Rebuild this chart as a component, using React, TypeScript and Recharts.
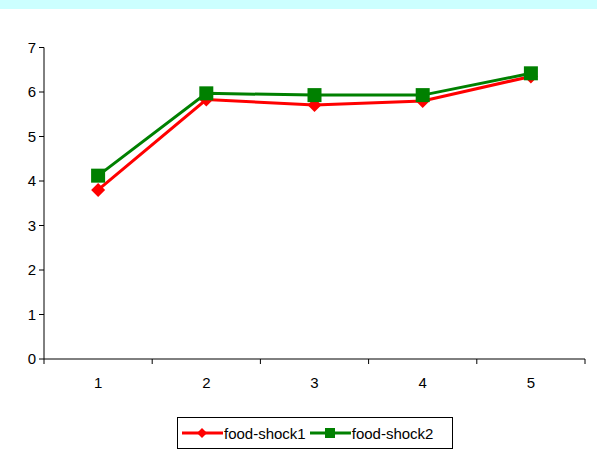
import { Line, LineChart, XAxis, YAxis } from "recharts";

const categories = ["1", "2", "3", "4", "5"];
const foodShock1 = [3.8, 5.83, 5.71, 5.8, 6.35];
const foodShock2 = [4.12, 5.97, 5.93, 5.93, 6.42];
const yTicks = [0, 1, 2, 3, 4, 5, 6, 7];

const W = 597;
const H = 463;
const LEFT = 44;
const RIGHT = 585;
const TOP = 47.5;
const AXIS_Y = 359;
const BAND = (RIGHT - LEFT) / categories.length;
const FONT = "'Liberation Sans', Arial, sans-serif";
const FS = 15;

const data = categories.map((c, i) => ({
  x: i + 1,
  s1: foodShock1[i],
  s2: foodShock2[i],
}));

function Diamond(props: any) {
  const { cx, cy } = props;
  if (cx == null || cy == null) return null;
  const r = 7;
  return (
    <path
      d={`M${cx},${cy - r}L${cx + r},${cy}L${cx},${cy + r}L${cx - r},${cy}Z`}
      fill="#FF0000"
    />
  );
}

function Square(props: any) {
  const { cx, cy } = props;
  if (cx == null || cy == null) return null;
  return <rect x={cx - 7} y={cy - 7} width={14} height={14} fill="#008000" />;
}

function XTick(props: any) {
  const { x, payload } = props;
  const half = BAND / 2;
  const last = payload.value === categories.length;
  return (
    <g>
      <line x1={x - half} y1={AXIS_Y} x2={x - half} y2={AXIS_Y + 5} stroke="#000" />
      {last && <line x1={x + half} y1={AXIS_Y} x2={x + half} y2={AXIS_Y + 5} stroke="#000" />}
      <text x={x} y={AXIS_Y + 29} textAnchor="middle" fontSize={FS} fontFamily={FONT} fill="#000">
        {categories[payload.value - 1]}
      </text>
    </g>
  );
}

export default function App() {
  return (
    <div style={{ position: "absolute", left: 0, top: 0, width: W, height: H, background: "#FFFFFF" }}>
      <div style={{ position: "absolute", left: 0, top: 0, width: W, height: 9, background: "#CCFFFF" }} />
      <LineChart
        width={W}
        height={H}
        data={data}
        margin={{ top: TOP, right: W - RIGHT, left: 0, bottom: H - AXIS_Y - 30 }}
      >
        <XAxis
          dataKey="x"
          type="number"
          domain={[0.5, 5.5]}
          ticks={[1, 2, 3, 4, 5]}
          tickLine={false}
          axisLine={{ stroke: "#000" }}
          height={30}
          tick={<XTick />}
          interval={0}
        />
        <YAxis
          width={LEFT}
          domain={[0, 7]}
          ticks={yTicks}
          interval={0}
          tickSize={5}
          tickMargin={3}
          axisLine={{ stroke: "#000" }}
          tickLine={{ stroke: "#000" }}
          tick={{ fill: "#000", fontSize: FS, fontFamily: FONT }}
        />
        <Line
          dataKey="s1"
          name="food-shock1"
          stroke="#FF0000"
          strokeWidth={3}
          dot={<Diamond />}
          activeDot={false}
          isAnimationActive={false}
        />
        <Line
          dataKey="s2"
          name="food-shock2"
          stroke="#008000"
          strokeWidth={3}
          dot={<Square />}
          activeDot={false}
          isAnimationActive={false}
        />
      </LineChart>
      <div
        style={{
          position: "absolute",
          left: 177,
          top: 417,
          width: 276,
          height: 32,
          border: "1px solid #000",
          boxSizing: "border-box",
          display: "flex",
          alignItems: "center",
          fontFamily: FONT,
          fontSize: FS,
          color: "#000",
          paddingLeft: 4,
        }}
      >
        <svg width={41} height={16}>
          <line x1={0} y1={8} x2={41} y2={8} stroke="#FF0000" strokeWidth={3} />
          <path d="M20,3L25,8L20,13L15,8Z" fill="#FF0000" />
        </svg>
        <span style={{ marginLeft: 1, marginRight: 4 }}>food-shock1</span>
        <svg width={41} height={16}>
          <line x1={0} y1={8} x2={41} y2={8} stroke="#008000" strokeWidth={3} />
          <rect x={15} y={3} width={10} height={10} fill="#008000" />
        </svg>
        <span style={{ marginLeft: 1 }}>food-shock2</span>
      </div>
    </div>
  );
}
